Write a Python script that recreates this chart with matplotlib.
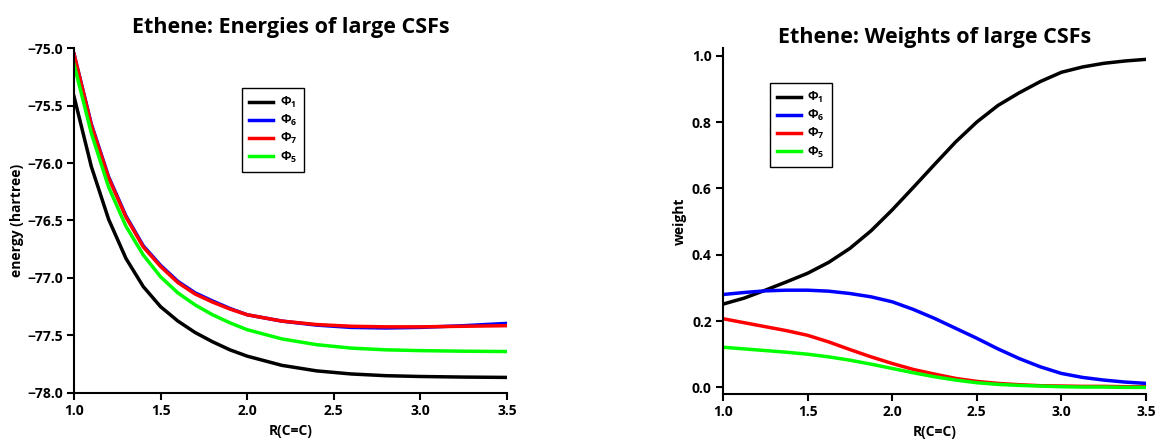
import matplotlib
matplotlib.use("Agg")
import matplotlib.pyplot as plt

## 글꼴 설정 (굵은 글씨)
plt.rcParams['font.family'] = ['Open Sans', 'DejaVu Sans']
plt.rcParams['font.weight'] = 'bold'
plt.rcParams['axes.titleweight'] = 'bold'
plt.rcParams['axes.labelweight'] = 'bold'
plt.rcParams['mathtext.fontset'] = 'custom'
plt.rcParams['mathtext.rm'] = 'Open Sans:bold'
plt.rcParams['mathtext.it'] = 'Open Sans:bold'
plt.rcParams['mathtext.bf'] = 'Open Sans:bold'

## 에너지 데이터 (hartree)
r_energy = [1.0, 1.1, 1.2, 1.3, 1.4, 1.5, 1.6, 1.7, 1.8, 1.9, 2.0,
            2.2, 2.4, 2.6, 2.8, 3.0, 3.25, 3.5]
e_phi1 = [-75.42, -76.03, -76.49, -76.83, -77.075, -77.25, -77.375, -77.475, -77.555,
          -77.625, -77.68, -77.76, -77.808, -77.835, -77.85, -77.857, -77.862, -77.865]
e_phi6 = [-75.05, -75.66, -76.12, -76.46, -76.72, -76.89, -77.03, -77.13, -77.20,
          -77.265, -77.32, -77.375, -77.41, -77.43, -77.435, -77.43, -77.415, -77.395]
e_phi7 = [-75.05, -75.67, -76.13, -76.47, -76.73, -76.90, -77.04, -77.14, -77.21,
          -77.27, -77.32, -77.375, -77.405, -77.42, -77.425, -77.425, -77.42, -77.415]
e_phi5 = [-75.14, -75.74, -76.21, -76.55, -76.80, -76.99, -77.13, -77.235, -77.32,
          -77.39, -77.45, -77.53, -77.58, -77.61, -77.625, -77.632, -77.637, -77.64]

## 가중치 데이터
r_weight = [1.0, 1.125, 1.25, 1.375, 1.5, 1.625, 1.75, 1.875, 2.0, 2.125, 2.25, 2.375,
            2.5, 2.625, 2.75, 2.875, 3.0, 3.125, 3.25, 3.375, 3.5]
w_phi1 = [0.251, 0.269, 0.293, 0.318, 0.344, 0.377, 0.419, 0.472, 0.535, 0.603, 0.672,
          0.740, 0.800, 0.850, 0.888, 0.922, 0.950, 0.966, 0.977, 0.984, 0.989]
w_phi6 = [0.280, 0.286, 0.291, 0.293, 0.293, 0.290, 0.283, 0.273, 0.258, 0.235, 0.208,
          0.178, 0.148, 0.116, 0.087, 0.062, 0.042, 0.030, 0.022, 0.016, 0.012]
w_phi7 = [0.207, 0.195, 0.183, 0.171, 0.157, 0.137, 0.114, 0.092, 0.072, 0.054, 0.040,
          0.027, 0.018, 0.012, 0.008, 0.005, 0.004, 0.003, 0.003, 0.002, 0.002]
w_phi5 = [0.121, 0.116, 0.111, 0.106, 0.100, 0.092, 0.082, 0.070, 0.057, 0.044, 0.032,
          0.022, 0.014, 0.009, 0.006, 0.004, 0.002, 0.001, 0.001, 0.000, 0.000]

labels = [r'$\Phi_1$', r'$\Phi_6$', r'$\Phi_7$', r'$\Phi_5$']
colors = ['black', 'blue', 'red', '#00ff00']

fig = plt.figure(figsize=(11.56, 4.45), dpi=100)
ax1 = fig.add_axes([0.064, 0.117, 0.3746, 0.775])
ax2 = fig.add_axes([0.6254, 0.1146, 0.366, 0.7774])


def style_axes(ax):
    for side in ['top', 'right']:
        ax.spines[side].set_visible(False)
    for side in ['left', 'bottom']:
        ax.spines[side].set_linewidth(1.5)
    ax.tick_params(direction='out', length=5, width=1.5, labelsize=10, pad=3)
    for t in ax.get_xticklabels() + ax.get_yticklabels():
        t.set_fontweight('bold')


def add_legend(ax, anchor):
    leg = ax.legend(loc='upper left', bbox_to_anchor=anchor, borderaxespad=0,
                    fontsize=9, handlelength=1.95, handletextpad=0.5,
                    borderpad=0.55, labelspacing=0.25, fancybox=False, framealpha=1)
    leg.get_frame().set_edgecolor('black')
    leg.get_frame().set_linewidth(1.0)
    return leg


## 왼쪽: 에너지
for ys, c, lab in zip([e_phi1, e_phi6, e_phi7, e_phi5], colors, labels):
    ax1.plot(r_energy, ys, color=c, lw=2.5, label=lab)
ax1.set_xlim(1.0, 3.5)
ax1.set_ylim(-78.0, -75.0)
ax1.set_xticks([1.0, 1.5, 2.0, 2.5, 3.0, 3.5])
ax1.set_yticks([-78.0, -77.5, -77.0, -76.5, -76.0, -75.5, -75.0])
style_axes(ax1)
ax1.set_xlabel('R(C=C)', fontsize=10, labelpad=4)
ax1.set_ylabel('energy (hartree)', fontsize=10, labelpad=2)
ax1.set_title('Ethene: Energies of large CSFs', fontsize=15.5, pad=11)
add_legend(ax1, (0.388, 0.884))

## 오른쪽: 가중치
for ys, c, lab in zip([w_phi1, w_phi6, w_phi7, w_phi5], colors, labels):
    ax2.plot(r_weight, ys, color=c, lw=2.5, label=lab)
ax2.set_xlim(1.0, 3.5)
ax2.set_ylim(-0.02, 1.023)
ax2.set_xticks([1.0, 1.5, 2.0, 2.5, 3.0, 3.5])
ax2.set_yticks([0.0, 0.2, 0.4, 0.6, 0.8, 1.0])
style_axes(ax2)
ax2.set_xlabel('R(C=C)', fontsize=10, labelpad=4)
ax2.set_ylabel('weight', fontsize=10, labelpad=4)
ax2.set_title('Ethene: Weights of large CSFs', fontsize=15.5, pad=3)
add_legend(ax2, (0.111, 0.899))

fig.savefig('out.png', dpi=100)
